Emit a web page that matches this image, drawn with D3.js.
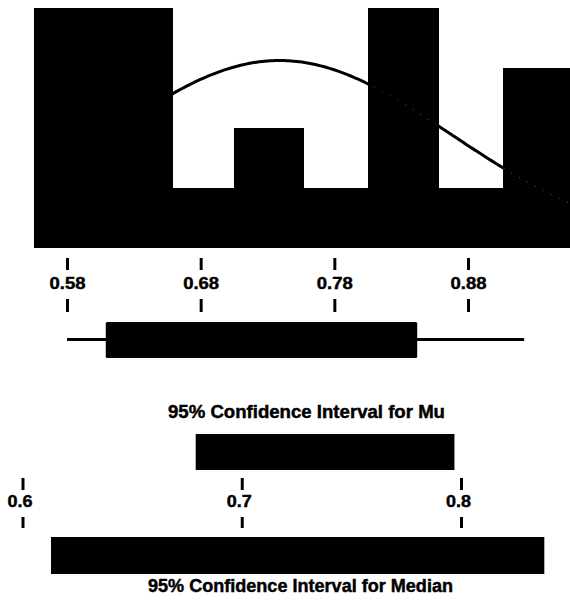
<!DOCTYPE html>
<html>
<head>
<meta charset="utf-8">
<script src="https://cdn.jsdelivr.net/npm/d3@7"></script>
<style>
  html, body { margin: 0; padding: 0; background: #fff; }
  svg { display: block; }
  text { font-family: "Liberation Sans", Arial, Helvetica, sans-serif; font-weight: bold; fill: #000; stroke: #000; stroke-width: 0.45px; }
</style>
</head>
<body>
<svg id="chart" width="570" height="603"></svg>
<script>
// Histogram: bin edges and the count in each bin
const binEdges  = [0.555, 0.607, 0.659, 0.705, 0.757, 0.805, 0.858, 0.906, 0.957];
const binCounts = [4, 4, 1, 2, 1, 4, 1, 3];

// Fitted normal curve parameters
const fitMean = 0.739;
const fitSd = 0.128;

// Histogram axis ticks
const histTicks = [0.58, 0.68, 0.78, 0.88];
const histTickLabels = ["0.58", "0.68", "0.78", "0.88"];

// Box plot summary: minimum, first quartile, third quartile, maximum
const boxSummary = [0.58, 0.609, 0.842, 0.922];

// Confidence intervals
const muInterval = [0.679, 0.797];
const medianInterval = [0.613, 0.838];
const ciTicks = [0.6, 0.7, 0.8];
const ciTickLabels = ["0.6", "0.7", "0.8"];
const ciTitles = ["95% Confidence Interval for Mu", "95% Confidence Interval for Median"];

const svg = d3.select("#chart");
svg.append("rect").attr("width", 570).attr("height", 603).attr("fill", "#fff");

// Scales
const x1 = d3.scaleLinear().domain([0.58, 0.88]).range([67, 468]);
const y1 = d3.scaleLinear().domain([0, 4]).range([247.5, 7.5]);
const x2 = d3.scaleLinear().domain([0.6, 0.8]).range([22.5, 461]);

const bins = binCounts.map((c, i) => ({ x0: binEdges[i], x1: binEdges[i + 1], count: c }));
const total = d3.sum(binCounts);
const binWidth = 0.05;

// Histogram bars
const barRect = sel => sel
  .attr("x", d => x1(d.x0))
  .attr("y", d => y1(d.count))
  .attr("width", d => x1(d.x1) - x1(d.x0) + 0.5)
  .attr("height", d => y1(0) - y1(d.count));

// Normal curve (scaled to counts), kept inside the histogram frame
const pdf = v => Math.exp(-0.5 * ((v - fitMean) / fitSd) ** 2) / (fitSd * Math.sqrt(2 * Math.PI));
const curvePts = d3.range(x1.invert(40), x1.invert(571), 0.002).map(v => [v, pdf(v) * total * binWidth]);
const line = d3.line().x(d => x1(d[0])).y(d => y1(d[1])).curve(d3.curveBasis);

svg.append("path")
  .attr("d", line(curvePts))
  .attr("fill", "none")
  .attr("stroke", "#000")
  .attr("stroke-width", 3);

svg.append("g").selectAll("rect").data(bins).join("rect")
  .call(barRect)
  .attr("fill", "#000")
  .attr("shape-rendering", "crispEdges");

// Faint trace of the curve where it runs through the right-hand bars
const clip = svg.append("defs").append("clipPath").attr("id", "barsClip");
clip.selectAll("rect").data(bins.filter((d, i) => i >= 4)).join("rect").call(barRect);
svg.append("path")
  .attr("d", line(curvePts))
  .attr("clip-path", "url(#barsClip)")
  .attr("fill", "none")
  .attr("stroke", "#5a5a5a")
  .attr("stroke-width", 1)
  .attr("stroke-dasharray", "1,8");

// Axis with tick marks above and below each label
function drawAxis(scale, ticks, labels, top, labelY, lowerTick, labelWidth, labelShift) {
  const g = svg.append("g")
    .attr("transform", `translate(0,${top})`)
    .call(d3.axisBottom(scale).tickValues(ticks)
      .tickFormat((d, i) => labels[i]).tickSize(12));
  g.select(".domain").remove();
  g.selectAll(".tick line").attr("stroke", "#000").attr("stroke-width", 3);
  g.selectAll(".tick").append("line")
    .attr("y1", lowerTick[0]).attr("y2", lowerTick[1])
    .attr("stroke", "#000").attr("stroke-width", 3);
  g.selectAll(".tick text")
    .attr("y", labelY).attr("dy", null)
    .attr("x", labelShift)
    .attr("font-size", 17)
    .attr("font-family", null)
    .attr("textLength", labelWidth)
    .attr("lengthAdjust", "spacingAndGlyphs");
  g.attr("font-size", null).attr("font-family", null);
  return g;
}

drawAxis(x1, histTicks, histTickLabels, 258, 31, [41, 54], 36, 0);

// Box plot
const [bMin, bQ1, bQ3, bMax] = boxSummary;
svg.append("line")
  .attr("x1", x1(bMin)).attr("x2", x1(bMax))
  .attr("y1", 339.5).attr("y2", 339.5)
  .attr("stroke", "#000").attr("stroke-width", 3);
svg.append("rect")
  .attr("x", x1(bQ1)).attr("y", 322)
  .attr("width", x1(bQ3) - x1(bQ1)).attr("height", 36)
  .attr("rx", 1.5)
  .attr("fill", "#000");

// Confidence interval for the mean
svg.append("text")
  .attr("x", 306.5).attr("y", 418)
  .attr("text-anchor", "middle")
  .attr("font-size", 18)
  .attr("textLength", 277).attr("lengthAdjust", "spacingAndGlyphs")
  .text(ciTitles[0]);
svg.append("rect")
  .attr("x", x2(muInterval[0])).attr("y", 434)
  .attr("width", x2(muInterval[1]) - x2(muInterval[0])).attr("height", 36)
  .attr("fill", "#000");

drawAxis(x2, ciTicks, ciTickLabels, 478, 29, [39, 50], 25, -3);

// Confidence interval for the median
svg.append("rect")
  .attr("x", x2(medianInterval[0])).attr("y", 537)
  .attr("width", x2(medianInterval[1]) - x2(medianInterval[0])).attr("height", 37)
  .attr("fill", "#000");
svg.append("text")
  .attr("x", 300.5).attr("y", 592)
  .attr("text-anchor", "middle")
  .attr("font-size", 18)
  .attr("textLength", 305).attr("lengthAdjust", "spacingAndGlyphs")
  .text(ciTitles[1]);
</script>
</body>
</html>
